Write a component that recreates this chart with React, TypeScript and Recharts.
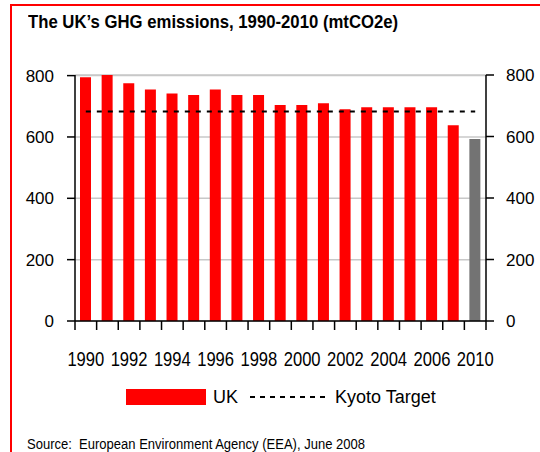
import React from 'react';
import {
  ComposedChart,
  Bar,
  Line,
  XAxis,
  YAxis,
  CartesianGrid,
  Legend,
  Cell,
} from 'recharts';

const years = [
  '1990', '1991', '1992', '1993', '1994', '1995', '1996', '1997', '1998', '1999',
  '2000', '2001', '2002', '2003', '2004', '2005', '2006', '2007', '2010',
];
const ukEmissions = [
  795, 802, 775, 755, 742, 737, 755, 737, 737, 704,
  704, 710, 690, 697, 697, 697, 697, 638, 593,
];
const kyotoTarget = [
  681, 681, 681, 681, 681, 681, 681, 681, 681, 681,
  681, 681, 681, 681, 681, 681, 681, 681, 681,
];
const xLabels = ['1990', '1992', '1994', '1996', '1998', '2000', '2002', '2004', '2006', '2010'];
const yTicks = [0, 200, 400, 600, 800];
const projectedYears = ['2010'];

const data = years.map((year, i) => ({
  year,
  uk: ukEmissions[i],
  kyoto: kyotoTarget[i],
}));

const FONT = '"Liberation Sans", Arial, sans-serif';
const RED = '#ff0000';
const GREY = '#737373';
const W = 540;
const H = 452;
const PLOT_LEFT = 75;
const PLOT_RIGHT = 486;
const BAND = (PLOT_RIGHT - PLOT_LEFT) / years.length;

// tick marks sit on the category boundaries, labels only on some years
const YearTick = (props: any) => {
  const { x, y, payload, index } = props;
  const last = index === years.length - 1;
  return (
    <g>
      <line x1={x - BAND / 2} x2={x - BAND / 2} y1={y} y2={y + 9} stroke="#000" strokeWidth={1.5} />
      {last && (
        <line x1={x + BAND / 2} x2={x + BAND / 2} y1={y} y2={y + 9} stroke="#000" strokeWidth={1.5} />
      )}
      {xLabels.includes(payload.value) && (
        <text
          transform={`translate(${x},${y + 45}) scale(0.79,1)`}
          textAnchor="middle"
          fontSize={21}
          fill="#000"
          fontFamily={FONT}
        >
          {payload.value}
        </text>
      )}
    </g>
  );
};

const LegendContent = () => (
  <svg width={W} height={24} style={{ display: 'block' }}>
    <rect x={126} y={4} width={80} height={16} fill={RED} />
    <text x={213} y={18} fontSize={18} fill="#000" fontFamily={FONT}>UK</text>
    <line x1={250} x2={328} y1={12} y2={12} stroke="#000" strokeWidth={2} strokeDasharray="5 5" />
    <text x={335} y={18} fontSize={18} fill="#000" fontFamily={FONT}>Kyoto Target</text>
  </svg>
);

export default function App() {
  return (
    <div
      style={{
        position: 'absolute',
        left: 0,
        top: 0,
        width: W,
        height: H,
        overflow: 'hidden',
        background: '#fff',
        fontFamily: FONT,
      }}
    >
      <div
        style={{
          position: 'absolute',
          left: 10,
          top: 4,
          width: W,
          height: H,
          borderTop: `2px solid ${RED}`,
          borderLeft: `2px solid ${RED}`,
        }}
      />
      <div
        style={{
          position: 'absolute',
          left: 28,
          top: 11,
          fontSize: 19,
          lineHeight: '22px',
          fontWeight: 'bold',
          color: '#000',
          whiteSpace: 'nowrap',
          transform: 'scaleX(0.88)',
          transformOrigin: 'left top',
        }}
      >
        The UK’s GHG emissions, 1990-2010 (mtCO2e)
      </div>
      <div style={{ position: 'absolute', left: 0, top: 0 }}>
        <ComposedChart
          width={W}
          height={H}
          data={data}
          margin={{ top: 75, right: 0, bottom: 57, left: 0 }}
        >
          <CartesianGrid yAxisId="left" vertical={false} stroke="#c8c8c8" strokeWidth={1.5} />
          <XAxis
            dataKey="year"
            interval={0}
            height={50}
            tickSize={0}
            tickMargin={0}
            tickLine={false}
            axisLine={{ stroke: '#000', strokeWidth: 1.5 }}
            tick={<YearTick />}
          />
          <YAxis
            yAxisId="left"
            orientation="left"
            width={PLOT_LEFT}
            domain={[0, 800]}
            ticks={yTicks}
            interval={0}
            tickSize={8}
            tickMargin={13}
            axisLine={{ stroke: '#000', strokeWidth: 1.5 }}
            tickLine={{ stroke: '#000', strokeWidth: 1.5 }}
            tick={{ fontSize: 17, fill: '#000', fontFamily: FONT }}
          />
          <YAxis
            yAxisId="right"
            orientation="right"
            width={W - PLOT_RIGHT}
            domain={[0, 800]}
            ticks={yTicks}
            interval={0}
            tickSize={8}
            tickMargin={12}
            axisLine={{ stroke: '#000', strokeWidth: 1.5 }}
            tickLine={{ stroke: '#000', strokeWidth: 1.5 }}
            tick={{ fontSize: 17, fill: '#000', fontFamily: FONT }}
          />
          <Legend
            verticalAlign="bottom"
            content={<LegendContent />}
            wrapperStyle={{ top: 385, bottom: 'auto', left: 0, width: W, height: 24 }}
          />
          <Bar yAxisId="left" dataKey="uk" barSize={11} isAnimationActive={false}>
            {data.map((d) => (
              <Cell key={d.year} fill={projectedYears.includes(d.year) ? GREY : RED} />
            ))}
          </Bar>
          <Line
            yAxisId="right"
            type="linear"
            dataKey="kyoto"
            stroke="#000"
            strokeWidth={2}
            strokeDasharray="5 6"
            dot={false}
            activeDot={false}
            isAnimationActive={false}
          />
        </ComposedChart>
      </div>
      <div
        style={{
          position: 'absolute',
          left: 27,
          top: 436,
          fontSize: 14,
          lineHeight: '16px',
          color: '#000',
          whiteSpace: 'pre',
          transform: 'scaleX(0.93)',
          transformOrigin: 'left top',
        }}
      >
        {'Source:  European Environment Agency (EEA), June 2008'}
      </div>
    </div>
  );
}
